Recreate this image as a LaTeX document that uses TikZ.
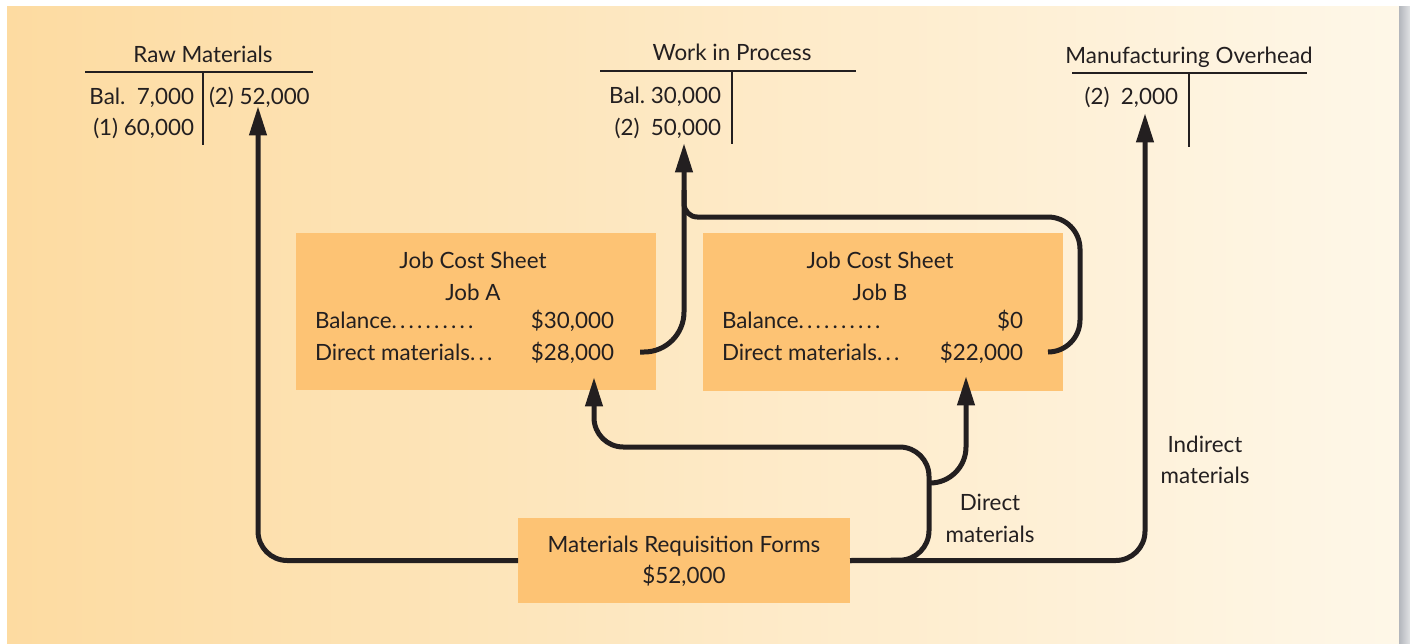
\documentclass[tikz,border=0pt]{standalone}
\usepackage{fontspec}
\setmainfont{Lato}
\usetikzlibrary{arrows.meta}
\definecolor{ink}{HTML}{231F20}
\definecolor{boxfill}{HTML}{FDC374}
\definecolor{bgl}{HTML}{FDDBA1}
\definecolor{bgr}{HTML}{FEF7E8}
\definecolor{shadowc}{HTML}{B3B6BC}
\newcommand\ldot{.\kern2.4pt}
\begin{document}
\begin{tikzpicture}[x=0.75pt,y=-0.75pt,
  every node/.style={inner sep=0pt, outer sep=0pt, text=ink, font=\fontsize{16.8}{20}\selectfont},
  tline/.style={draw=ink, line width=1.7pt},
  conn/.style={draw=ink, line width=3.75pt, rounded corners=22pt},
  tipped/.style={-{Triangle[length=22pt,width=12.5pt]}},
  jobbox/.style={fill=boxfill, minimum width=270pt, minimum height=118pt},
  mrbox/.style={fill=boxfill, minimum width=249pt, minimum height=64pt}]
\useasboundingbox (0,0) rectangle (1410,643);
% background panel
\fill[white] (0,0) rectangle (1410,643);
\shade[left color=bgl, right color=bgr] (7,6) rectangle (1399,643);
\shade[left color=shadowc, right color=shadowc!40] (1399,6) rectangle (1410,643);

% ---- Raw Materials T-account
\node[anchor=base] (rmtitle) at (203,62) {Raw Materials};
\coordinate (rmL) at (85,72); \coordinate (rmR) at (313,72);
\coordinate (rmT) at (203,72); \coordinate (rmB) at (203,145);
\draw[tline] (rmL) -- (rmR);
\draw[tline] (rmT) -- (rmB);
\node[anchor=base east] (rmbal) at (194,104) {Bal.\ \ 7,000};
\node[anchor=base east] (rmone) at (194,135) {(1) 60,000};
\node[anchor=base west] (rmtwo) at (209,104) {(2) 52,000};

% ---- Work in Process T-account
\node[anchor=base] (wiptitle) at (732,60) {Work in Process};
\coordinate (wipL) at (600,71); \coordinate (wipR) at (856,71);
\coordinate (wipT) at (732,71); \coordinate (wipB) at (732,144);
\draw[tline] (wipL) -- (wipR);
\draw[tline] (wipT) -- (wipB);
\node[anchor=base east] (wipbal) at (721,103) {Bal.\ 30,000};
\node[anchor=base east] (wiptwo) at (721,135) {(2)\ \ 50,000};

% ---- Manufacturing Overhead T-account
\node[anchor=base] (mohtitle) at (1189,63) {Manufacturing Overhead};
\coordinate (mohL) at (1072,73); \coordinate (mohR) at (1307,73);
\coordinate (mohT) at (1189,73); \coordinate (mohB) at (1189,147);
\draw[tline] (mohL) -- (mohR);
\draw[tline] (mohT) -- (mohB);
\node[anchor=base east] (mohtwo) at (1178,104) {(2)\ \ 2,000};

% ---- Job cost sheets
\node[jobbox] (jobA) at (476,311.5) {};
\node[anchor=base] (jobAt1) at (473,268) {Job Cost Sheet};
\node[anchor=base] (jobAt2) at (473,300) {Job A};
\node[anchor=base west] (jobAb) at (315,328) {Balance\ldot\ldot\ldot\ldot\ldot\ldot\ldot\ldot\ldot.};
\node[anchor=base east] (jobAbv) at (614,328) {\$30,000};
\node[anchor=base west] (jobAd) at (315,360) {Direct materials\ldot\ldot.};
\node[anchor=base east] (jobAdv) at (614,360) {\$28,000};

\node[jobbox] (jobB) at (883,312) {};
\node[anchor=base] (jobBt1) at (880,268) {Job Cost Sheet};
\node[anchor=base] (jobBt2) at (880,300) {Job B};
\node[anchor=base west] (jobBb) at (722,328) {Balance\ldot\ldot\ldot\ldot\ldot\ldot\ldot\ldot\ldot.};
\node[anchor=base east] (jobBbv) at (1023,328) {\$0};
\node[anchor=base west] (jobBd) at (722,360) {Direct materials\ldot\ldot.};
\node[anchor=base east] (jobBdv) at (1023,360) {\$22,000};

% ---- Materials requisition
\node[mrbox] (mr) at (684,560.5) {};
\node[anchor=base] (mrt1) at (684,552) {Materials Requisition Forms};
\node[anchor=base] (mrt2) at (684,583) {\$52,000};

% ---- labels
\node[anchor=base] (dirl1) at (990,510) {Direct};
\node[anchor=base] (dirl2) at (990,542) {materials};
\node[anchor=base] (indl1) at (1205,452) {Indirect};
\node[anchor=base] (indl2) at (1205,483) {materials};

% ---- connector points
\coordinate (rawtip) at (258,106);
\coordinate (mohtip) at (1145,113);
\coordinate (wiptip) at (684,143);
\coordinate (jobAtip) at (594,377);
\coordinate (jobBtip) at (966,376);
\coordinate (jobAout) at (640,352);
\coordinate (jobBout) at (1048,352);
\coordinate (dirup) at (929,560);
\coordinate (dirtop) at (929,447);
\coordinate (branch) at (929,483);

% ---- connectors
\draw[conn,tipped] (mr.west) -| (rawtip);
\draw[conn,tipped] (mr.east) -| (mohtip);
\draw[conn,tipped] (mr.east) -- (dirup) -- (dirtop) -| (jobAtip);
\draw[conn,tipped,rounded corners=27pt] (branch) -| (jobBtip);
\draw[conn,tipped,rounded corners=30pt] (jobAout) -| (wiptip);
\draw[conn,rounded corners=24pt] (jobBout) -- (1080,352) -- (1080,217) [rounded corners=10pt] -- (684,217) -- (684,190);
\end{tikzpicture}
\end{document}
